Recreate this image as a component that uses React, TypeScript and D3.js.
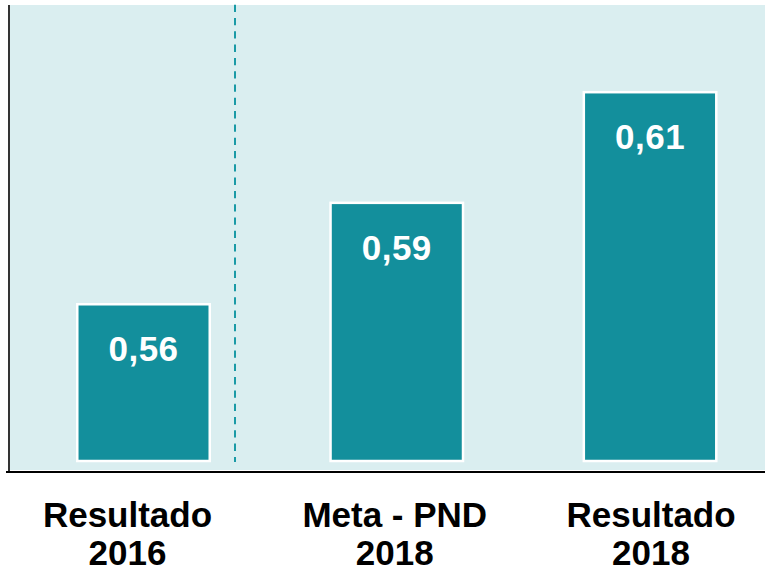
import React from 'react';
import * as d3 from 'd3';

// categories (two-line labels) and values
const categories = ['Resultado 2016', 'Meta - PND 2018', 'Resultado 2018'];
const labelLines = [['Resultado', '2016'], ['Meta - PND', '2018'], ['Resultado', '2018']];
const values = [0.564, 0.586, 0.61];

const W = 765;
const H = 575;
const plot = { left: 10, right: 765, top: 5, bottom: 470 };
const baseY = 461;
const barColor = '#138f9c';
const bgColor = '#daeef0';
const labelNudge = [-16, -2, 1];

const fmt = (v: number) => d3.format('.2f')(v).replace('.', ',');

export default function App() {
  const x = d3
    .scaleBand<string>()
    .domain(categories)
    .range([plot.left, plot.right])
    .paddingInner(0.477)
    .paddingOuter(0.229)
    .align(0.58);

  const y = d3.scaleLinear().domain([0.53, 0.63]).range([baseY, 0]);

  const dividerX = 235;

  return (
    <svg
      width={W}
      height={H}
      style={{ position: 'absolute', left: 0, top: 0, background: '#fff' }}
      fontFamily="'Liberation Sans', Arial, sans-serif"
    >
      <rect
        x={plot.left}
        y={plot.top}
        width={plot.right - plot.left}
        height={plot.bottom - plot.top}
        fill={bgColor}
      />
      <line
        x1={dividerX}
        x2={dividerX}
        y1={4.7}
        y2={baseY + 1}
        stroke="#1a9aa6"
        strokeWidth={2}
        strokeDasharray="7.3,6"
      />
      {values.map((v, i) => {
        const bx = x(categories[i])!;
        const top = y(v);
        return (
          <g key={categories[i]}>
            <rect
              x={bx}
              y={top}
              width={x.bandwidth()}
              height={baseY - top}
              fill={barColor}
              stroke="#fff"
              strokeWidth={2.5}
            />
            <text
              x={bx + x.bandwidth() / 2}
              y={top + 57}
              textAnchor="middle"
              fill="#fff"
              fontWeight="bold"
              fontSize={35}
              letterSpacing={0.5}
            >
              {fmt(v)}
            </text>
          </g>
        );
      })}
      <line x1={9} x2={9} y1={5} y2={472} stroke="#000" strokeWidth={1.6} />
      <line x1={6} x2={W} y1={472} y2={472} stroke="#000" strokeWidth={2} />
      {labelLines.map((lines, i) => {
        const cx = x(categories[i])! + x.bandwidth() / 2 + labelNudge[i];
        return (
          <g key={'lab' + i}>
            {lines.map((t, j) => (
              <text
                key={j}
                x={cx}
                y={526.5 + j * 38.5}
                textAnchor="middle"
                fill="#000"
                fontWeight="bold"
                fontSize={35}
              >
                {t}
              </text>
            ))}
          </g>
        );
      })}
    </svg>
  );
}
